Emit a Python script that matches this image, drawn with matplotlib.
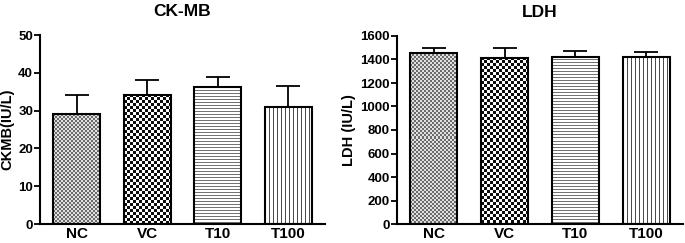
import numpy as np
import matplotlib
matplotlib.use("Agg")
import matplotlib.pyplot as plt

plt.rcParams['font.family'] = ['Liberation Sans', 'DejaVu Sans']
plt.rcParams['font.weight'] = 'bold'

categories = ["NC", "VC", "T10", "T100"]
ckmb_mean = [29.1, 34.2, 36.2, 31.0]
ckmb_err = [5.0, 3.9, 2.7, 5.5]
ldh_mean = [1458, 1415, 1424, 1421]
ldh_err = [43, 83, 48, 46]

W, H = 685, 243
fig = plt.figure(figsize=(W / 100, H / 100), dpi=100)

ax1 = fig.add_axes([40 / W, (H - 224) / H, 285 / W, 189 / H])
ax2 = fig.add_axes([397 / W, (H - 224) / H, 286 / W, 188 / H])


def pattern(kind, h, w):
    yy, xx = np.mgrid[0:h, 0:w]
    if kind == 0:   # fine gray checker
        a = np.where(((yy // 2) + (xx // 2)) % 2 == 0, 0.42, 0.88)
    elif kind == 1:  # coarse black/white checker
        a = np.where(((yy // 3) + (xx // 3)) % 2 == 0, 0.05, 1.0)
    elif kind == 2:  # horizontal lines
        a = np.where(yy % 3 == 0, 0.45, 1.0)
    else:            # vertical lines
        a = np.where(xx % 4 == 0, 0.3, 1.0)
    return a


def draw(ax, means, errs, ymax, step, title, ylabel):
    x = np.arange(len(categories))
    ax.set_xlim(-0.52, 3.52)
    ax.set_ylim(0, ymax)
    bars = ax.bar(x, means, width=0.66, facecolor='none', edgecolor='black',
                  linewidth=1.5, zorder=3)
    ax.errorbar(x, means, yerr=[np.zeros(len(errs)), errs], fmt='none',
                ecolor='black', elinewidth=1.3, capsize=8.5, capthick=1.3, zorder=1)
    for i, b in enumerate(bars):
        x0, y0 = b.get_x(), 0
        x1, y1 = b.get_x() + b.get_width(), b.get_height()
        p0 = ax.transData.transform((x0, y0))
        p1 = ax.transData.transform((x1, y1))
        w = max(int(round(p1[0] - p0[0])), 1)
        h = max(int(round(p1[1] - p0[1])), 1)
        img = pattern(i, h, w)
        im = ax.imshow(img, cmap='gray', vmin=0, vmax=1, extent=(x0, x1, y0, y1),
                       interpolation='nearest', aspect='auto', zorder=2)
        im.set_clip_path(b)
    ax.set_aspect('auto')
    ax.set_xlim(-0.52, 3.52)
    ax.set_ylim(0, ymax)
    ax.set_xticks(x)
    ax.set_xticklabels(categories, fontsize=11, fontweight='bold')
    ax.set_yticks(np.arange(0, ymax + 1, step))
    ax.tick_params(axis='y', length=4, width=1.3, labelsize=9.5, pad=1)
    ax.tick_params(axis='x', length=0, pad=2)
    for lbl in ax.get_yticklabels():
        lbl.set_fontweight('bold')
    for s in ['top', 'right']:
        ax.spines[s].set_visible(False)
    for s in ['left', 'bottom']:
        ax.spines[s].set_linewidth(1.5)
    ax.set_title(title, fontsize=12.5, fontweight='bold', pad=14)
    ax.set_ylabel(ylabel, fontsize=10.5, fontweight='bold', labelpad=3)


draw(ax1, ckmb_mean, ckmb_err, 50, 10, "CK-MB", "CKMB(IU/L)")
draw(ax2, ldh_mean, ldh_err, 1600, 200, "LDH", "LDH (IU/L)")

fig.savefig("out.png", dpi=100)
